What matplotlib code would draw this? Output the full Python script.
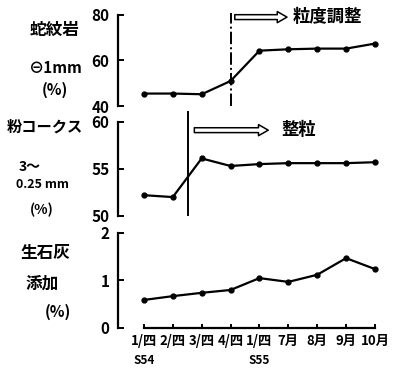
import matplotlib
matplotlib.use("Agg")
import matplotlib.pyplot as plt

plt.rcParams['font.family'] = ['Noto Sans CJK JP', 'DejaVu Sans']
plt.rcParams['font.weight'] = 'bold'

# periods (x axis)
x_labels = ['1/四', '2/四', '3/四', '4/四', '1/四', '7月', '8月', '9月', '10月']
year_labels = ['S54', 'S55']
year_pos = [0, 4]

serp = [45.5, 45.5, 45.2, 51.0, 64.3, 64.9, 65.2, 65.2, 67.4]      # 蛇紋岩 -1mm (%)
coke = [52.2, 52.0, 56.1, 55.3, 55.5, 55.6, 55.6, 55.6, 55.7]      # 粉コークス 3~0.25mm (%)
lime = [0.59, 0.67, 0.74, 0.80, 1.05, 0.97, 1.12, 1.47, 1.24]      # 生石灰 添加 (%)

xs = list(range(len(x_labels)))

fig = plt.figure(figsize=(3.97, 3.71), dpi=100)
ax1 = fig.add_axes([0.297, 0.714, 0.673, 0.246])
ax2 = fig.add_axes([0.297, 0.418, 0.673, 0.254])
ax3 = fig.add_axes([0.297, 0.116, 0.673, 0.256])

for ax, ys in [(ax1, serp), (ax2, coke), (ax3, lime)]:
    ax.plot(xs, ys, color='black', lw=1.6, marker='o', ms=3.5)
    ax.set_xlim(-0.9, 8.35)
    for s in ['top', 'right', 'bottom']:
        ax.spines[s].set_visible(False)
    ax.spines['left'].set_linewidth(1.6)
    ax.tick_params(axis='y', direction='in', length=4, width=1.4, labelsize=11, pad=6)
    ax.set_xticks([])

ax1.set_ylim(40, 80)
ax1.set_yticks([40, 60, 80])
ax2.set_ylim(50, 60)
ax2.set_yticks([50, 55, 60])
ax3.set_ylim(0, 2)
ax3.set_yticks([0, 1, 2])

# bottom axis
ax3.spines['bottom'].set_visible(True)
ax3.spines['bottom'].set_bounds(0, 8)
ax3.spines['bottom'].set_linewidth(1.6)
ax3.set_xticks(xs)
ax3.set_xticklabels(x_labels, fontsize=9.5)
ax3.tick_params(axis='x', direction='in', length=3, width=1.4, pad=4)
for x, lab in zip(year_pos, year_labels):
    ax3.text(x, -0.68, lab, ha='center', va='center', fontsize=8.5, style='italic')

# 粒度調整 marker
ax1.plot([3, 3], [40, 81], color='black', lw=1.4, ls='-.', clip_on=False)
ax1.annotate('', xy=(5.05, 79), xytext=(3.05, 79),
             arrowprops=dict(arrowstyle='simple,head_width=0.8,head_length=0.7,tail_width=0.35',
                             fc='white', ec='black', lw=1.1), annotation_clip=False)
ax1.text(5.15, 79, '粒度調整', ha='left', va='center', fontsize=12.5)

# 整粒 marker
ax2.plot([1.52, 1.52], [50.1, 61.0], color='black', lw=1.4, clip_on=False)
ax2.annotate('', xy=(4.4, 59.1), xytext=(1.65, 59.1),
             arrowprops=dict(arrowstyle='simple,head_width=0.8,head_length=0.7,tail_width=0.35',
                             fc='white', ec='black', lw=1.1), annotation_clip=False)
ax2.text(4.75, 59.1, '整粒', ha='left', va='center', fontsize=12.5)

# left side labels
def lab(x, y, s, fs=11):
    fig.text(x / 397, 1 - y / 371, s, ha='center', va='center', fontsize=fs)

lab(55, 30, '蛇紋岩', 12)
lab(55, 68, '⊖1mm', 11)
lab(55, 90, '(%)', 11)
lab(45, 127, '粉コークス', 11)
lab(30, 167, '3～', 10)
lab(42, 185, '0.25 mm', 9)
lab(42, 210, '(%)', 10)
lab(45, 253, '生石灰', 12)
lab(42, 284, '添加', 12)
lab(58, 312, '(%)', 11)

fig.savefig('out.png', dpi=100)
